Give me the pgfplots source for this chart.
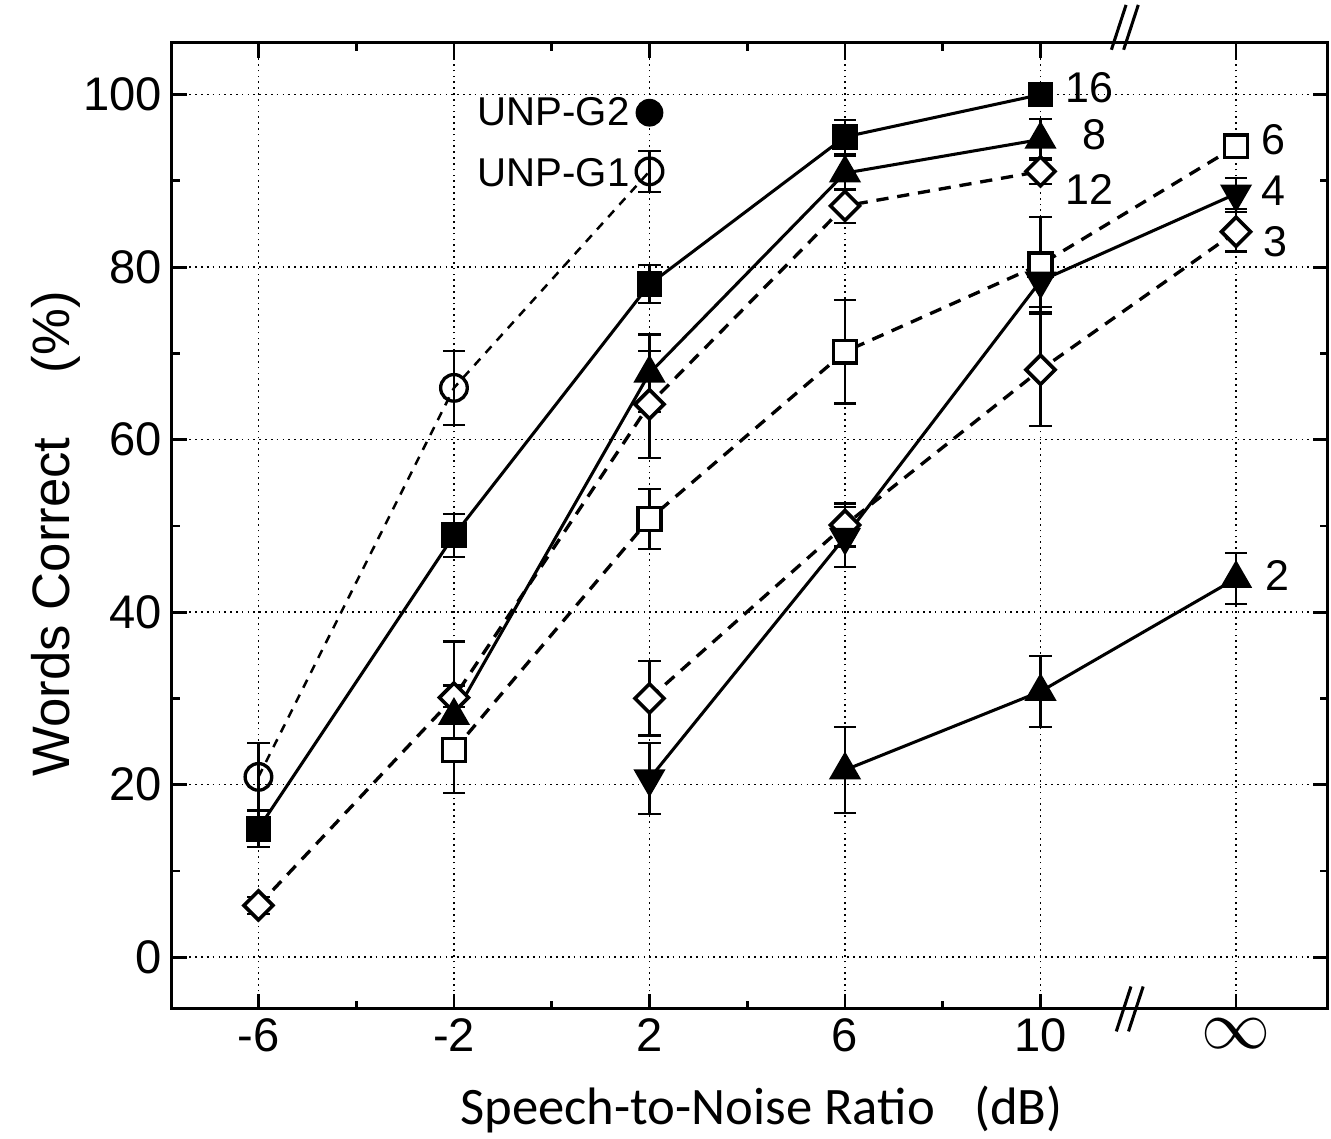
\documentclass[border=0pt]{standalone}
\usepackage{fontspec}
\setmainfont{Liberation Sans}
\newfontfamily\carlito{Carlito}
\usepackage{pgfplots}
\usepackage{pgfplotstable}
\pgfplotsset{compat=1.18}

\pgfplotstableread{
x y e
-6 14.9 2.1
-2 48.9 2.5
2 78.0 2.2
6 95.1 2.0
10 100.0 0
}\sixteen
\pgfplotstableread{
x y e
-2 28.0 3.5
2 67.7 4.5
6 90.9 2.0
10 94.8 2.4
}\eight
\pgfplotstableread{
x y e
-6 6.0 1.0
-2 30.1 6.5
2 64.1 6.2
6 87.1 2.0
10 91.1 1.5
}\twelve
\pgfplotstableread{
x y e
-2 24.0 5.0
2 50.8 3.5
6 70.2 6.0
10 80.3 5.5
14 94.0 0
}\six
\pgfplotstableread{
x y e
2 20.7 4.1
6 48.7 3.5
10 78.4 3.0
14 88.5 1.8
}\four
\pgfplotstableread{
x y e
2 30.0 4.3
6 50.1 2.5
10 68.1 6.5
14 84.1 2.3
}\three
\pgfplotstableread{
x y e
6 21.7 5.0
10 30.8 4.1
14 43.9 3.0
}\two
\pgfplotstableread{
x y e
-6 20.9 3.9
-2 66.0 4.3
2 91.1 2.4
}\unpone
\pgfplotstableread{
x y
2 97.9
}\unptwo

\pgfplotsset{
  ebar/.style={error bars/.cd, y dir=both, y explicit,
    error bar style={line width=0.8pt, solid, black},
    error mark options={rotate=90, line width=0.8pt, mark size=4pt, black, solid}},
  solidser/.style={black, solid, line width=1.1pt},
  dashser/.style={black, line width=1.2pt, dash pattern=on 4.4pt off 3.2pt},
}

\begin{document}
\begin{tikzpicture}
\begin{axis}[
  at={(0,0)}, anchor=south west,
  scale only axis,
  width=416.9pt, height=348.4pt,
  xmin=-7.77, xmax=15.88,
  ymin=-6, ymax=106,
  clip=false,
  xtick={-6,-2,2,6,10,14},
  xticklabels={-6,-2,2,6,10,{\fontsize{30}{30}\selectfont$\infty$}},
  minor xtick={-4,0,4,8},
  ytick={0,20,40,60,80,100},
  minor ytick={10,30,50,70,90},
  tick align=inside,
  major tick length=5.5pt,
  minor tick length=3pt,
  every tick/.style={line width=1pt, black},
  axis line style={line width=1.1pt},
  xmajorgrids, ymajorgrids,
  major grid style={line width=0.6pt, black, dash pattern=on 0.6pt off 1.5pt},
  /pgf/number format/assume math mode=true,
  ticklabel style={font=\fontsize{17}{18}\selectfont},
  xlabel={\carlito Speech-to-Noise Ratio\hspace{10pt} (dB)},
  xlabel style={font=\fontsize{19}{21}\selectfont, at={(axis description cs:0.51,0)}, anchor=base, yshift=-41.8pt},
  ylabel={Words Correct\hspace{18pt} (\%)},
  ylabel style={font=\fontsize{19}{21}\selectfont, at={(axis description cs:-0.0883,0.492)}, anchor=base},
]
% dashed series
\addplot[dashser, black, line width=0.9pt, dash pattern=on 3.2pt off 2.8pt, mark=o, mark size=4.8pt, mark options={solid, fill=white, line width=1.2pt}, ebar] table[x=x, y=y, y error=e] {\unpone};
\addplot[dashser, mark=square*, mark size=3.7pt, mark options={solid, rotate=45, fill=white, line width=1.3pt}, ebar] table[x=x, y=y, y error=e] {\twelve};
\addplot[dashser, mark=square*, mark size=4.1pt, mark options={solid, fill=white, line width=1.2pt}, ebar] table[x=x, y=y, y error=e] {\six};
\addplot[dashser, mark=square*, mark size=3.7pt, mark options={solid, rotate=45, fill=white, line width=1.3pt}, ebar] table[x=x, y=y, y error=e] {\three};
% solid series
\addplot[solidser, mark=square*, mark size=4.1pt, mark options={solid, fill=black}, ebar] table[x=x, y=y, y error=e] {\sixteen};
\addplot[solidser, mark=triangle*, mark size=5.6pt, mark options={solid, fill=black}, ebar] table[x=x, y=y, y error=e] {\eight};
\addplot[solidser, mark=triangle*, mark size=5.6pt, mark options={solid, fill=black, rotate=180}, ebar] table[x=x, y=y, y error=e] {\four};
\addplot[solidser, mark=triangle*, mark size=5.6pt, mark options={solid, fill=black}, ebar] table[x=x, y=y, y error=e] {\two};
\addplot[only marks, black, mark=*, mark size=4.8pt] table[x=x, y=y] {\unptwo};

% labels
\begin{scope}[every node/.style={inner sep=0pt, font=\fontsize{15.5}{16}\selectfont}]
\node[anchor=west] at (axis cs:10.5,100.8) {16};
\node[anchor=west] at (axis cs:10.85,95.3) {8};
\node[anchor=west] at (axis cs:10.5,89.0) {12};
\node[anchor=west] at (axis cs:14.5,94.8) {6};
\node[anchor=west] at (axis cs:14.5,88.8) {4};
\node[anchor=west] at (axis cs:14.55,83.0) {3};
\node[anchor=west] at (axis cs:14.6,44.3) {2};
\node[anchor=east, font=\fontsize{14.5}{15}\selectfont] at (axis cs:1.6,98.0) {UNP-G2};
\node[anchor=east, font=\fontsize{14.5}{15}\selectfont] at (axis cs:1.6,91.0) {UNP-G1};
\end{scope}

% axis break marks
\draw[line width=1.1pt] (axis cs:11.55,-8.6) -- (axis cs:11.85,-3.4);
\draw[line width=1.1pt] (axis cs:11.8,-8.6) -- (axis cs:12.1,-3.4);
\draw[line width=1.1pt] (axis cs:11.45,105.2) -- (axis cs:11.75,110.4);
\draw[line width=1.1pt] (axis cs:11.7,105.2) -- (axis cs:12.0,110.4);
\end{axis}
\pgfresetboundingbox
\path (-62pt,-46.9pt) rectangle (418pt,363.85pt);
\end{tikzpicture}
\end{document}
